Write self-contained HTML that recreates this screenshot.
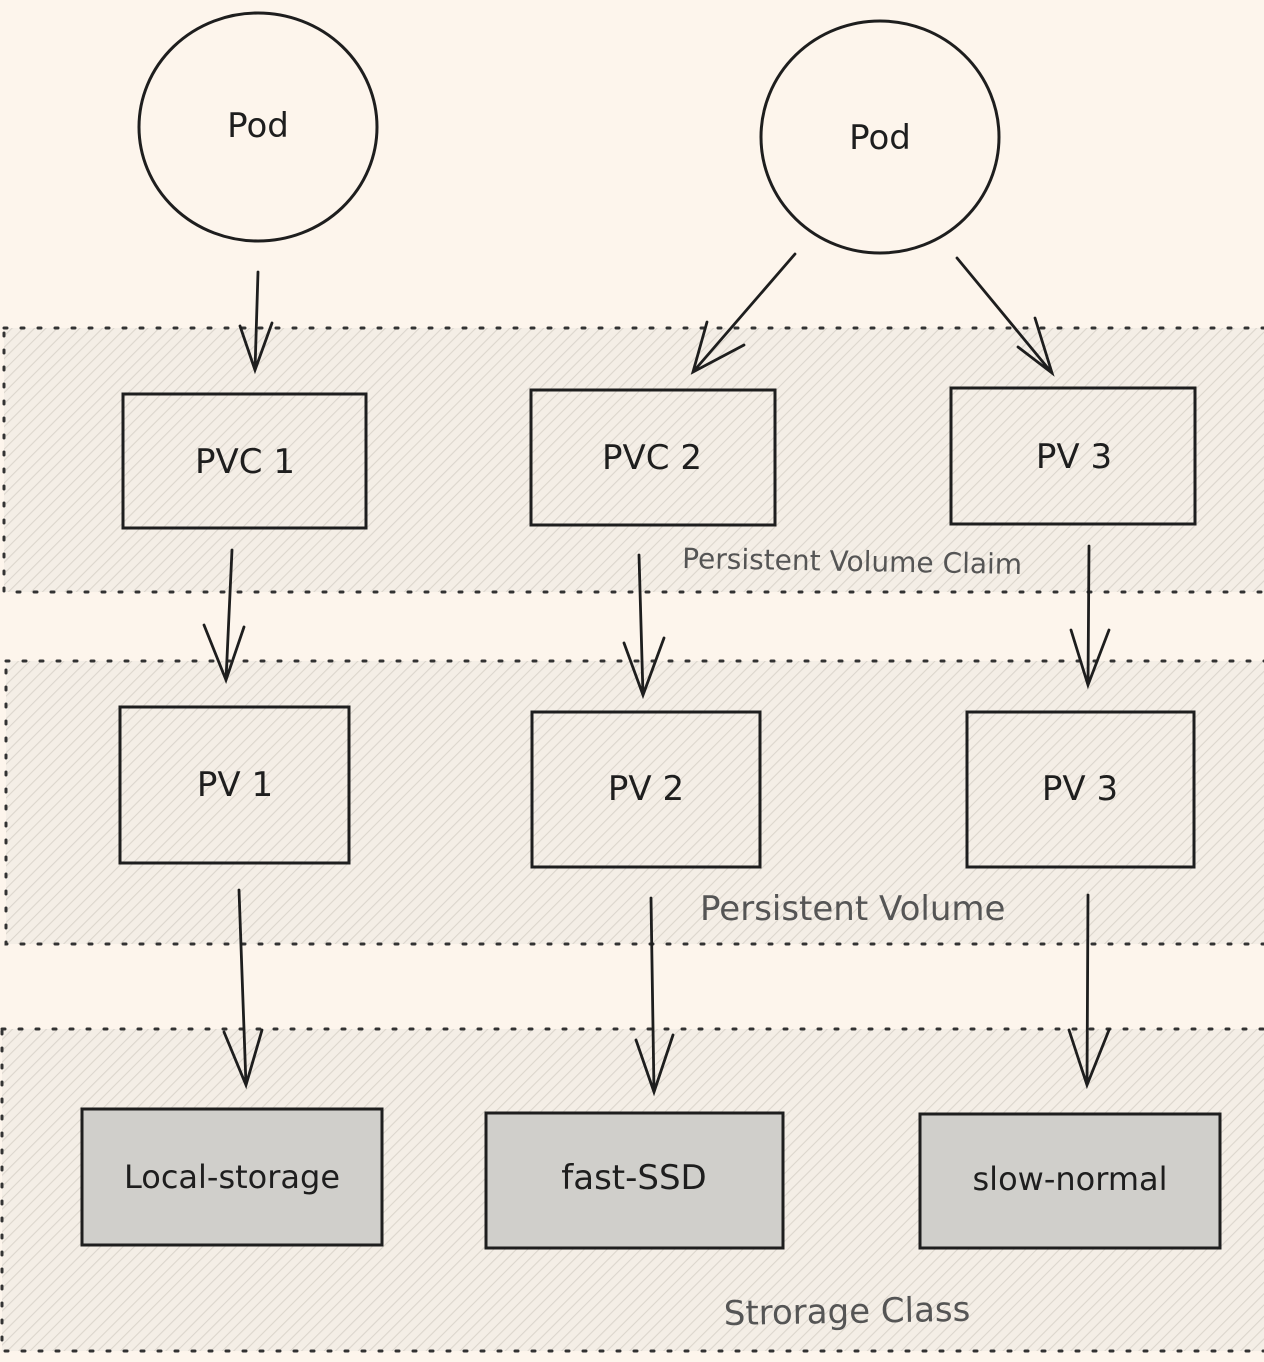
<!DOCTYPE html>
<html><head><meta charset="utf-8"><style>
html,body{margin:0;padding:0;background:#fdf5ec;}
svg{display:block;}
text{font-family:"DejaVu Sans","Liberation Sans",sans-serif;fill:#1e1e1e;}
</style></head><body>
<svg width="1264" height="1362" viewBox="0 0 1264 1362" xmlns="http://www.w3.org/2000/svg">
<defs>
<pattern id="h" patternUnits="userSpaceOnUse" width="8" height="8" patternTransform="rotate(45)">
<rect width="8" height="8" fill="#f4eee6"/>
<line x1="0" y1="0" x2="0" y2="8" stroke="#dcd6cd" stroke-width="2.2"/>
</pattern>
</defs>
<rect width="1264" height="1362" fill="#fdf5ec"/>
<g stroke="#333" stroke-width="3" stroke-dasharray="3,14" stroke-linecap="round">
<rect x="4" y="328" width="1270" height="264" fill="url(#h)"/>
<rect x="6" y="661" width="1270" height="283" fill="url(#h)"/>
<rect x="2" y="1029" width="1270" height="322" fill="url(#h)"/>
</g>
<g fill="none" stroke="#1e1e1e" stroke-width="3">
<ellipse cx="258" cy="127" rx="119" ry="114"/>
<ellipse cx="880" cy="137" rx="119" ry="116"/>
<rect x="123" y="394" width="243" height="134"/>
<rect x="531" y="390" width="244" height="135"/>
<rect x="951" y="388" width="244" height="136"/>
<rect x="120" y="707" width="229" height="156"/>
<rect x="532" y="712" width="228" height="155"/>
<rect x="967" y="712" width="227" height="155"/>
</g>
<g fill="#d0cfcb" stroke="#1e1e1e" stroke-width="3">
<rect x="82" y="1109" width="300" height="136"/>
<rect x="486" y="1113" width="297" height="135"/>
<rect x="920" y="1114" width="300" height="134"/>
</g>
<g fill="none" stroke="#1e1e1e" stroke-width="2.8" stroke-linecap="round">
<path d="M258 272 L255 370 M240 326 L255 370 L272 323"/>
<path d="M795 254 L693 372 M707 322 L693 372 L744 345"/>
<path d="M957 258 L1052 373 M1018 347 L1052 373 L1035 318"/>
<path d="M232 550 L226 680 M204 625 L226 680 L244 627"/>
<path d="M639 555 L643 695 M624 643 L643 695 L664 638"/>
<path d="M1089 546 L1088 685 M1071 630 L1088 685 L1109 630"/>
<path d="M239 890 L246 1085 M224 1032 L246 1085 L262 1030"/>
<path d="M651 898 L654 1092 M636 1040 L654 1092 L673 1035"/>
<path d="M1088 895 L1087 1085 M1069 1030 L1087 1085 L1109 1030"/>
</g>
<g font-size="34" text-anchor="middle">
<text x="258" y="137">Pod</text>
<text x="880" y="149">Pod</text>
<text x="245" y="473">PVC 1</text>
<text x="652" y="469">PVC 2</text>
<text x="1074" y="468">PV 3</text>
<text x="235" y="796">PV 1</text>
<text x="646" y="800">PV 2</text>
<text x="1080" y="800">PV 3</text>
<text x="232" y="1188" font-size="32">Local-storage</text>
<text x="634" y="1189">fast-SSD</text>
<text x="1070" y="1190" font-size="32">slow-normal</text>
</g>
<g font-size="28" text-anchor="start">
<text x="682" y="568" transform="rotate(1 682 568)" style="fill:#555">Persistent Volume Claim</text>
<text x="700" y="920" font-size="34" style="fill:#555">Persistent Volume</text>
<text x="724" y="1325" font-size="34" transform="rotate(-1 724 1325)" style="fill:#555">Strorage Class</text>
</g>
</svg>
</body></html>
